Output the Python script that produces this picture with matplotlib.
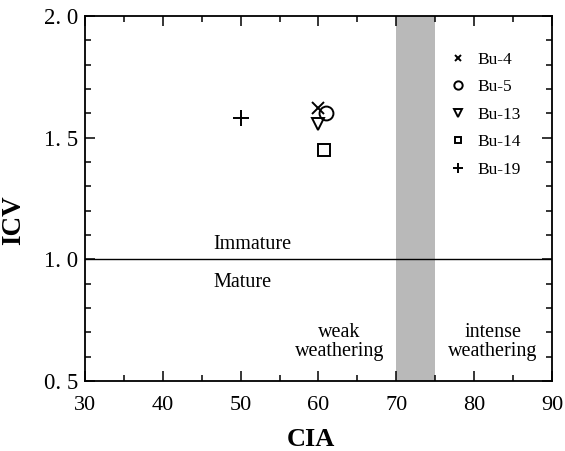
import matplotlib.pyplot as plt
from matplotlib.ticker import MultipleLocator, FixedLocator

plt.rcParams['font.family'] = ['Liberation Serif', 'DejaVu Serif']

# Campioni: CIA e ICV
samples = ['Bu-4', 'Bu-5', 'Bu-13', 'Bu-14', 'Bu-19']
cia = [60.0, 61.0, 59.9, 60.7, 50.0]
icv = [1.62, 1.60, 1.555, 1.45, 1.58]
markers = ['x', 'o', 'v', 's', '+']
sizes = [8, 10, 9, 8, 11]

# Fascia di transizione tra alterazione debole e intensa
band = (70, 75)
icv_limit = 1.0

xticks = [30, 40, 50, 60, 70, 80, 90]
yticks = [0.5, 1.0, 1.5, 2.0]
ylabels = ['0. 5', '1. 0', '1. 5', '2. 0']

fig = plt.figure(figsize=(5.65, 4.51), dpi=100)
ax = fig.add_axes([0.1504, 0.1552, 0.8266, 0.8093])

ax.axvspan(band[0], band[1], color='#b9b9b9', lw=0, zorder=0)
ax.axhline(icv_limit, color='black', lw=1.0, zorder=1)

for name, x, y, m, s in zip(samples, cia, icv, markers, sizes):
    filled = m in ('x', '+')
    ax.plot(x, y, linestyle='none', marker=m, markersize=s,
            markerfacecolor='none' if not filled else 'black',
            markeredgecolor='black', markeredgewidth=1.4, label=name, zorder=3)

ax.set_xlim(30, 90)
ax.set_ylim(0.5, 2.0)
ax.set_xticks(xticks)
ax.xaxis.set_minor_locator(MultipleLocator(5))
ax.yaxis.set_major_locator(FixedLocator(yticks))
ax.set_yticklabels(ylabels)
ax.yaxis.set_minor_locator(MultipleLocator(0.1))

ax.tick_params(which='both', direction='in', top=True, right=True,
               labelsize=16, width=1.1)
ax.tick_params(axis='y', labelsize=16.5)
ax.tick_params(which='major', length=7)
ax.tick_params(which='minor', length=4)
ax.tick_params(axis='x', pad=11)
ax.tick_params(axis='y', pad=5)
for sp in ax.spines.values():
    sp.set_linewidth(1.3)

ax.set_xlabel('CIA', fontsize=19, fontweight='bold')
ax.set_ylabel('ICV', fontsize=19.5, fontweight='bold')
ax.xaxis.set_label_coords(0.484, -0.128)
ax.yaxis.set_label_coords(-0.125, 0.441)

ax.text(46.45, 1.06, 'Immature', fontsize=14.5, ha='left', va='center')
ax.text(46.45, 0.905, 'Mature', fontsize=14.5, ha='left', va='center')
ax.text(62.7, 0.661, 'weak\nweathering', fontsize=14.5, ha='center',
        va='center', linespacing=1.0)
ax.text(82.4, 0.661, 'intense\nweathering', fontsize=14.5, ha='center',
        va='center', linespacing=1.0)

ax.legend(loc='upper right', bbox_to_anchor=(0.966, 0.945), frameon=False,
          fontsize=12.5, markerscale=0.6, handlelength=1.0, handletextpad=0.6,
          labelspacing=0.65)

fig.savefig('out.png', dpi=100)
